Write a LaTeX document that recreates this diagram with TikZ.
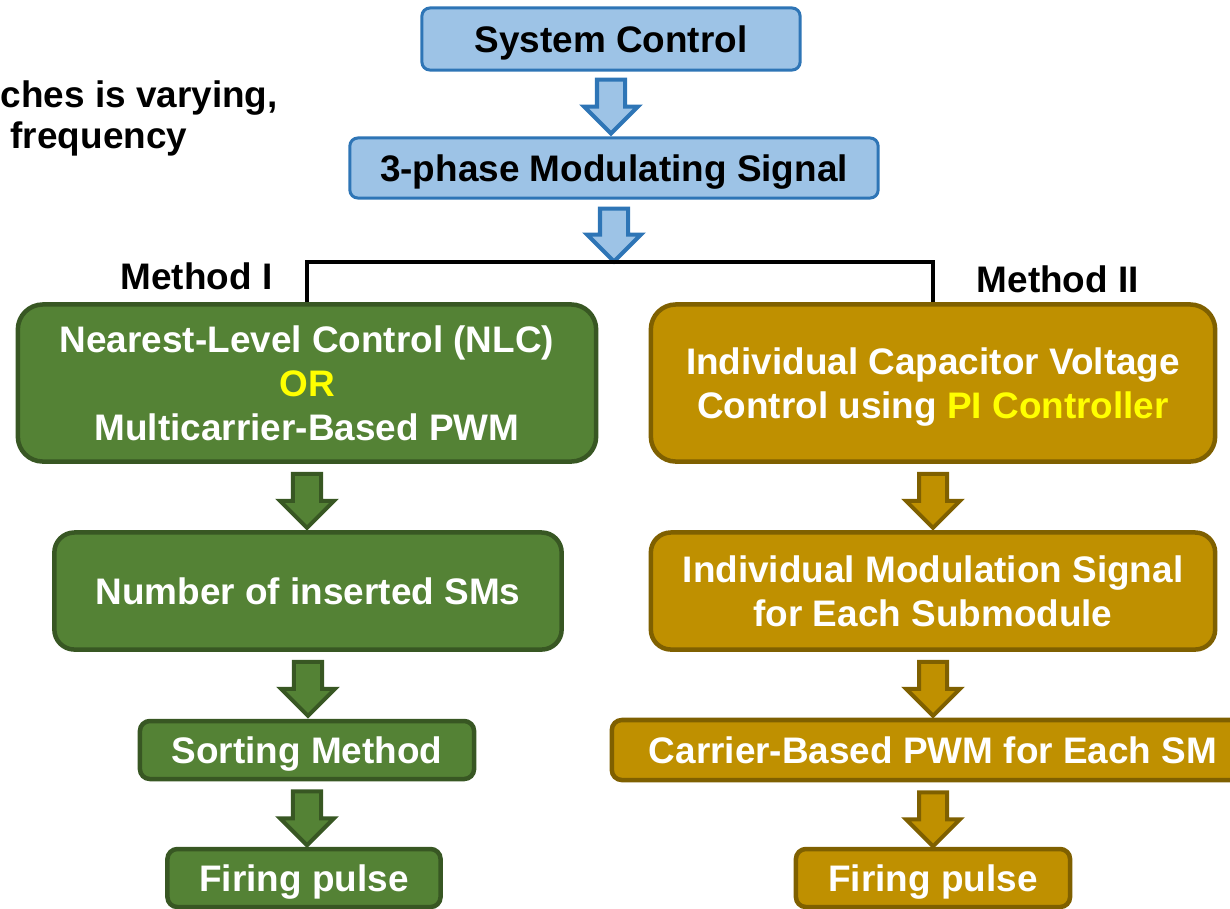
\documentclass[tikz,border=0pt]{standalone}
\usepackage{fontspec}
\setmainfont{Liberation Sans}
\usetikzlibrary{shapes.arrows,calc}

\definecolor{ctrlfill}{HTML}{9DC3E6}
\definecolor{ctrledge}{HTML}{2E75B6}
\definecolor{nlcfill}{HTML}{548235}
\definecolor{nlcedge}{HTML}{385723}
\definecolor{icvfill}{HTML}{BF9000}
\definecolor{icvedge}{HTML}{7F6000}
\definecolor{hilite}{HTML}{FFFF00}

\newcommand{\boxfont}{\fontsize{10.5pt}{12.6pt}\selectfont\bfseries}

\tikzset{
  box/.style={rectangle, align=center, inner sep=0pt, text depth=0pt, font=\boxfont},
  ctrlbox/.style={box, draw=ctrledge, fill=ctrlfill, line width=0.03cm, rounded corners=0.08cm, text=black},
  nlcbox/.style={box, draw=nlcedge, fill=nlcfill, line width=0.045cm, text=white},
  icvbox/.style={box, draw=icvedge, fill=icvfill, line width=0.045cm, text=white},
  plain/.style={inner sep=0pt, font=\boxfont, anchor=base west},
  downarrow/.style={single arrow, rotate=-90, anchor=tail, minimum height=0.54cm,
    inner xsep=0pt, inner ysep=0.12cm, single arrow head extend=0.13cm, line width=0.04cm}
}

\begin{document}
\begin{tikzpicture}[x=0.01cm, y=-0.01cm]

\useasboundingbox (0,0) rectangle (1230,908);

% cut-off note on the left
\node[plain] (note1) at (0,107) {ches is varying,};
\node[plain] (note2) at (10,148) {frequency};

% top of the chain
\node[ctrlbox, minimum width=3.78cm, minimum height=0.62cm] (sysctrl) at (611,39) {System Control};
\node[ctrlbox, minimum width=5.28cm, minimum height=0.60cm] (modsig) at (614,168) {3-phase Modulating Signal};
\coordinate (split) at (613,262);

\node[downarrow, draw=ctrledge, fill=ctrlfill] (sysctrl-arr) at ($(sysctrl.south)+(0,6)$) {};
\node[downarrow, draw=ctrledge, fill=ctrlfill, minimum height=0.53cm] (modsig-arr) at ($(modsig.south)+(0,7)$) {};

% method I
\node[nlcbox, rounded corners=0.25cm, minimum width=5.78cm, minimum height=1.57cm] (nlc) at (307,383)
  {Nearest-Level Control (NLC)\\\textcolor{hilite}{OR}\\Multicarrier-Based PWM};
\node[nlcbox, rounded corners=0.2cm, minimum width=5.07cm, minimum height=1.17cm] (nsm) at (308,591) {Number of inserted SMs};
\node[nlcbox, rounded corners=0.1cm, minimum width=3.34cm, minimum height=0.58cm] (sort) at (307,750) {Sorting Method};
\node[nlcbox, rounded corners=0.1cm, minimum width=2.73cm, minimum height=0.58cm] (firel) at (304,878) {Firing pulse};

% method II
\node[icvbox, rounded corners=0.25cm, minimum width=5.64cm, minimum height=1.57cm] (icv) at (933,383)
  {Individual Capacitor Voltage\\Control using \textcolor{hilite}{PI Controller}};
\node[icvbox, rounded corners=0.2cm, minimum width=5.64cm, minimum height=1.17cm] (ims) at (933,591)
  {Individual Modulation Signal\\for Each Submodule};
\node[icvbox, rounded corners=0.1cm, minimum width=6.42cm, minimum height=0.60cm] (cbpwm) at (933,750) {Carrier-Based PWM for Each SM};
\node[icvbox, rounded corners=0.1cm, minimum width=2.74cm, minimum height=0.58cm] (firer) at (933,878) {Firing pulse};

\foreach \src in {nlc,nsm,sort}
  \node[downarrow, draw=nlcedge, fill=nlcfill] (\src-arr) at ($(\src.south)+(0,8)$) {};
\foreach \src in {icv,ims,cbpwm}
  \node[downarrow, draw=icvedge, fill=icvfill] (\src-arr) at ($(\src.south)+(0,8)$) {};

% split into the two methods
\draw[line width=0.045cm] (nlc.north) |- (split) -| (icv.north);
\node[plain] (meth1) at (120,289) {Method I};
\node[plain] (meth2) at (976,292) {Method II};

\end{tikzpicture}
\end{document}
